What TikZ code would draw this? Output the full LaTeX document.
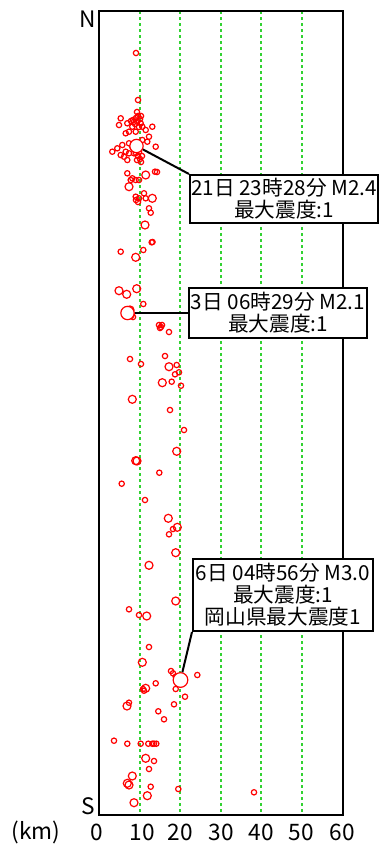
\documentclass[tikz,border=0pt]{standalone}
\usepackage{fontspec}
\newfontfamily\jpfont{Noto Sans CJK JP}
\definecolor{gridgreen}{RGB}{50,210,50}

\begin{document}
\begin{tikzpicture}[x=0.75pt,y=-0.75pt,
    quake/.style={draw=red,line width=0.9pt},
    event/.style={circle,draw=red,fill=white,line width=0.9pt,minimum size=10pt,inner sep=0pt},
    infobox/.style={draw,fill=white,line width=1.5pt,align=center,inner sep=0pt,
      font=\jpfont\fontsize{15.5}{16.5}\selectfont},
    leader/.style={line width=1.5pt},
    axislabel/.style={font=\jpfont\fontsize{17}{17}\selectfont}]
  \useasboundingbox (0,0) rectangle (382,850);
  % grid and frame
  \foreach \gx in {140,180,221,261,302}
    \draw[gridgreen,line width=1pt,dash pattern=on 2.25pt off 2.25pt] (\gx,11) -- (\gx,815);
  \draw[line width=1pt] (99,11) rectangle (343,815);
  \node[axislabel] (north) at (88,19) {N};
  \node[axislabel] (south) at (88,806) {S};
  \node[axislabel] (unit) at (36,832) {(km)};
  \foreach \tx/\lab in {97/0,142/10,180/20,221/30,261/40,301/50,342/60}
    \node[axislabel] (tick\lab) at (\tx,832) {\lab};
  % small shocks
  \foreach \px/\py in {136/53,138/100,
      120.7/118.3,119/125,127.3/123.3,134/121.7,137.3/121.7,140.7/123.3,142.3/126.7,
      132.3/126.7,129/131.7,125.7/133.3,135.7/131.7,145.7/130,152.3/126.7,149/136.7,
      147.3/141.7,142.3/140,155.7/146.7,112.3/151.7,117.3/148.3,122.3/145,129/143.3,
      132.3/146.7,125.7/151.7,120.7/155,124/156.7,129/153.3,134/153.3,127.3/160,
      136/118,138/116,140/119,135/124,139/127,133/120,141/116,137/112,131/121,
      136/153,138/156,140/159,141/162,137/160,139/152,142/156,
      127.3/173.3,130.7/180,132.3/178.3,135.7/180,139/180,155/171.7,157/172,
      135.7/196.7,139/198.3,144/193.3,145.7/198.3,149/208.3,136/200,138/202,
      150.7/212.7,151.7/242.3,152.5/242,120.7/251.7,143.3/250,143.3/304,
      131/316,133/317,132/314,159/325,161/327,162/325,160/328,169/332,
      130/359,141/364,165/356,176.7/365,179/372.3,175/374.3,171.7/381.7,181/385.7,
      170/410,184/430,159.3/472.7,121.7/483.7,145/500,
      173/529,169/534.3,129/609.3,139/615,149/647,
      173/673.3,171/671,175.7/676.7,197.3/675,155.7/683.3,175.7/689,144/690.7,143/689,
      185/696.7,174/704.3,129/702.7,158.3/711.3,164/719.3,114/740.7,127.3/743.7,
      140.7/743.7,148.3/743.7,152.3/743.7,154/743.7,156.3/743.7,154/761,149/769,
      150.7/786.7,178.3/789,254/792.3}
    \draw[quake] (\px,\py) circle[radius=2pt];
  % larger shocks
  \foreach \px/\py in {145.7/175,129/186.7,152.3/198.3,145/225,135.7/257.3,119/290.7,
      126.7/294.3,136.7/288.7,130/310,169/366.7,162.3/382.7,132.3/399.3,176.7/451.3,
      135.7/460.7,137/461,168.3/518.3,177.3/527.3,175.7/552.7,149/565.3,175.7/601,
      146.7/616,142.3/662.3,145.7/688.3,127/706,145.7/758.3,132.3/776,127.3/783.3,
      129/785,147.3/795.7,134/802.7}
    \draw[quake] (\px,\py) circle[radius=3pt];
  % felt events
  \node[event] (ev21) at (136.5,146) {};
  \node[event] (ev3) at (127.5,313) {};
  \node[event,minimum size=11pt] (ev6) at (180.5,680) {};
  \node[infobox,minimum width=141pt,minimum height=36pt] (box21) at (284,199)
    {21日 23時28分 M2.4\\最大震度:1};
  \node[infobox,minimum width=133.5pt,minimum height=37.5pt] (box3) at (278,313)
    {3日 06時29分 M2.1\\最大震度:1};
  \node[infobox,minimum width=135pt,minimum height=54pt] (box6) at (283,595)
    {6日 04時56分 M3.0\\最大震度:1\\岡山県最大震度1};
  \draw[leader] (ev21) -- (box21.north west);
  \draw[leader] (ev3) -- (box3.west);
  \draw[leader] (box6.south west) -- (ev6);
\end{tikzpicture}
\end{document}
